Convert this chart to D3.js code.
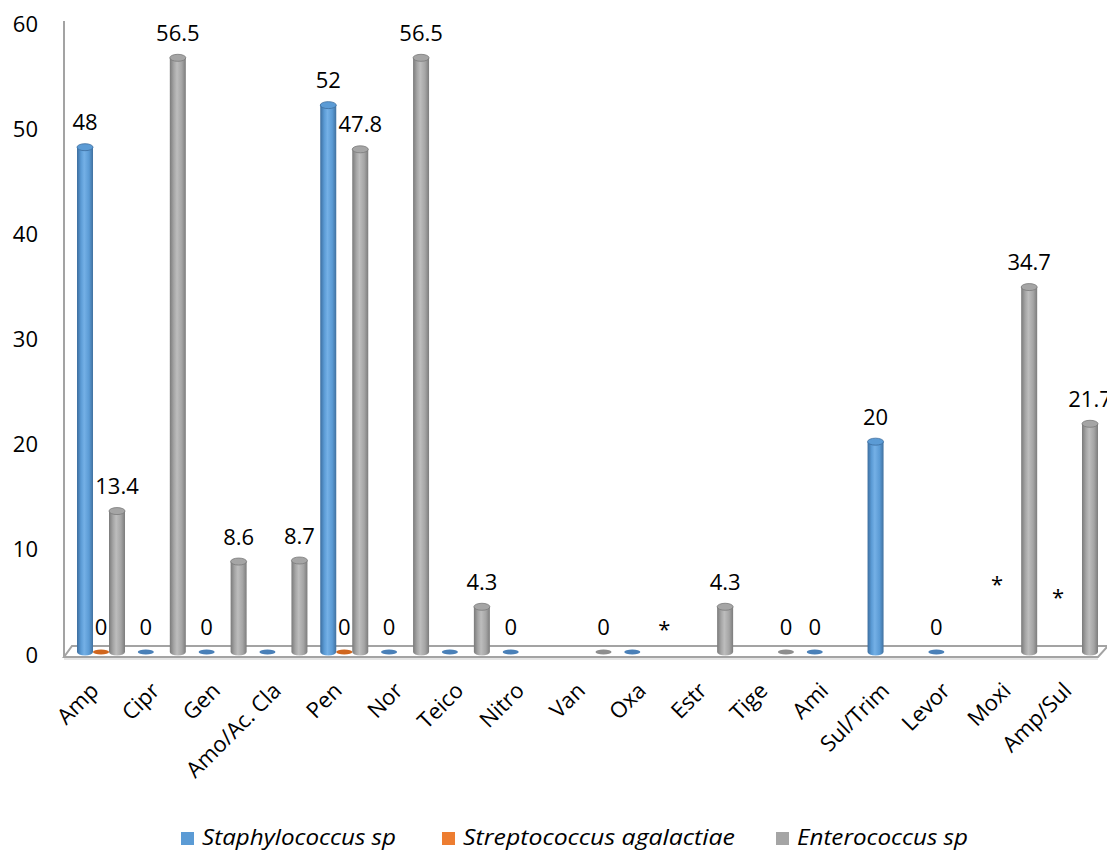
<!DOCTYPE html>
<html>
<head>
<meta charset="utf-8">
<script src="https://cdn.jsdelivr.net/npm/d3@7"></script>
<style>
  html, body { margin: 0; padding: 0; background: #fff; }
  svg { display: block; }
</style>
</head>
<body>
<svg id="chart" width="1107" height="850"></svg>
<script>
// ---- data ----
const categories = ["Amp", "Cipr", "Gen", "Amo/Ac. Cla", "Pen", "Nor", "Teico", "Nitro", "Van", "Oxa", "Estr", "Tige", "Ami", "Sul/Trim", "Levor", "Moxi", "Amp/Sul"];
const seriesNames = ["Staphylococcus sp", "Streptococcus agalactiae", "Enterococcus sp"];
const staphValues = [48, 0, 0, 0, 52, 0, 0, 0, null, 0, null, null, 0, 20, 0, null, null];
const strepValues = [0, null, null, null, 0, null, null, null, null, null, null, null, null, null, null, null, null];
const enteroValues = [13.4, 56.5, 8.6, 8.7, 47.8, 56.5, 4.3, null, 0, null, 4.3, 0, null, null, null, 34.7, 21.7];
// zero values drawn without a data label: [category, series index]
const unlabeledZeros = [["Amo/Ac. Cla", 0], ["Teico", 0], ["Oxa", 0]];
// "*" annotations: [category, series index, height value]
const starNotes = [["Oxa", 2, 0], ["Moxi", 0, 4.3], ["Amp/Sul", 0, 3.0]];
const yTicks = [0, 10, 20, 30, 40, 50, 60];

const seriesValues = [staphValues, strepValues, enteroValues];
const seriesColors = ["#5B9BD5", "#ED7D31", "#A5A5A5"];
const gradStops = [
  ["#3c6d9e", "#5b9bd5", "#74b0e6", "#5b9bd5", "#41719f"],
  ["#b05a1e", "#ed7d31", "#f59a5a", "#ed7d31", "#b45c20"],
  ["#7a7a7a", "#a5a5a5", "#bdbdbd", "#a5a5a5", "#7c7c7c"]
];
const diskColors = ["#4a80b8", "#d0661e", "#8e8e8e"];

const svg = d3.select("#chart");
const FONT = "'Open Sans', 'Liberation Sans', sans-serif";
const FS = 22;

const baseY = 652;
const y = d3.scaleLinear().domain([0, 60]).range([baseY, 21]);
const xCat = d3.scaleBand().domain(categories).range([70.6, 1104.4]);
const xSer = d3.scalePoint().domain([0, 1, 2]).range([-16, 16]);
const cx = (c, s) => xCat(c) + xCat.bandwidth() / 2 + xSer(s);

// gradients
const defs = svg.append("defs");
gradStops.forEach((st, i) => {
  const g = defs.append("linearGradient").attr("id", "cyl" + i)
    .attr("x1", "0%").attr("x2", "100%").attr("y1", "0%").attr("y2", "0%");
  [0, 25, 45, 75, 100].forEach((o, k) => g.append("stop").attr("offset", o + "%").attr("stop-color", st[k]));
});

// floor
const floor = svg.append("g");
floor.append("polygon")
  .attr("points", "64,657 1098,657 1108,646 72,646")
  .attr("fill", "#ffffff").attr("stroke", "#a3a3a3").attr("stroke-width", 2);
floor.append("line").attr("x1", 64).attr("x2", 1098).attr("y1", 659).attr("y2", 659)
  .attr("stroke", "#dcdcdc").attr("stroke-width", 1.5);

// vertical axis line
svg.append("line").attr("x1", 64).attr("x2", 64).attr("y1", y(60)).attr("y2", 657)
  .attr("stroke", "#a3a3a3").attr("stroke-width", 2);

// y axis labels
const yAxis = d3.axisLeft(y).tickValues(yTicks).tickSize(0).tickPadding(0).tickFormat(d3.format("d"));
const yg = svg.append("g").attr("transform", "translate(38,3)").call(yAxis);
yg.select(".domain").remove();
yg.selectAll("text").attr("font-family", FONT).attr("font-size", FS).attr("fill", "#000");

// x axis labels
const xAxis = d3.axisBottom(xCat).tickSize(0).tickPadding(0);
const xg = svg.append("g").attr("transform", "translate(0,690)").call(xAxis);
xg.select(".domain").remove();
xg.selectAll("text")
  .attr("font-family", FONT).attr("font-size", FS).attr("fill", "#000")
  .attr("text-anchor", "end").attr("y", 0).attr("dy", "0").attr("x", 0)
  .attr("transform", "translate(-1,2) rotate(-45)");

// bars
const barData = [];
seriesValues.forEach((vals, s) => vals.forEach((v, i) => {
  if (v !== null) barData.push({ c: categories[i], s: s, v: v });
}));
const rx = 8, ry = 3.5;
const bars = svg.append("g");
barData.filter(d => d.v > 0).forEach(d => {
  const x = cx(d.c, d.s), top = y(d.v);
  bars.append("path")
    .attr("d", `M${x - rx},${top} L${x - rx},${baseY} A${rx},${ry} 0 0 0 ${x + rx},${baseY} L${x + rx},${top} Z`)
    .attr("fill", `url(#cyl${d.s})`);
  bars.append("ellipse").attr("cx", x).attr("cy", top).attr("rx", rx).attr("ry", ry)
    .attr("fill", seriesColors[d.s]).attr("stroke", gradStops[d.s][0]).attr("stroke-width", 0.8);
});
barData.filter(d => d.v === 0).forEach(d => {
  bars.append("ellipse").attr("cx", cx(d.c, d.s)).attr("cy", baseY).attr("rx", rx).attr("ry", 2.5)
    .attr("fill", diskColors[d.s]);
});

// data labels
const isHidden = d => d.v === 0 && unlabeledZeros.some(u => u[0] === d.c && u[1] === d.s);
svg.append("g").selectAll("text").data(barData.filter(d => !isHidden(d))).join("text")
  .attr("x", d => cx(d.c, d.s)).attr("y", d => y(d.v) - 17)
  .attr("text-anchor", "middle").attr("font-family", FONT).attr("font-size", FS).attr("fill", "#000")
  .text(d => d.v);

// star notes
svg.append("g").selectAll("text").data(starNotes).join("text")
  .attr("x", d => cx(d[0], d[1])).attr("y", d => y(d[2]) - 15)
  .attr("text-anchor", "middle").attr("font-family", FONT).attr("font-size", FS).attr("fill", "#000")
  .text("*");

// legend
const legendX = [181, 442, 776];
const legendW = [194, 272, 171];
const lg = svg.append("g");
seriesNames.forEach((n, i) => {
  lg.append("rect").attr("x", legendX[i]).attr("y", 832).attr("width", 13).attr("height", 13).attr("fill", seriesColors[i]);
  lg.append("text").attr("x", legendX[i] + 21).attr("y", 845)
    .attr("font-family", FONT).attr("font-style", "italic").attr("font-size", FS).attr("fill", "#000")
    .attr("textLength", legendW[i]).attr("lengthAdjust", "spacingAndGlyphs")
    .text(n);
});
</script>
</body>
</html>
